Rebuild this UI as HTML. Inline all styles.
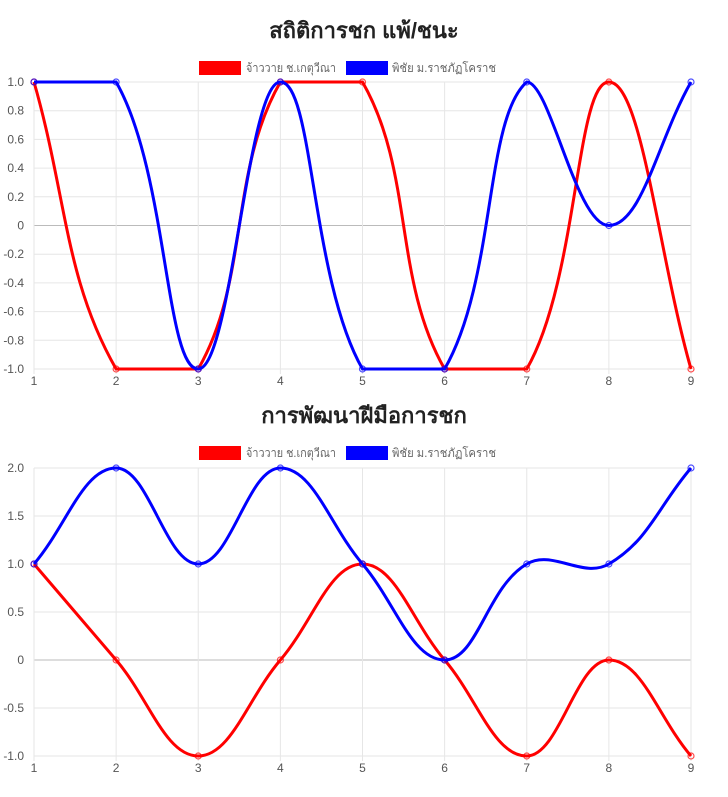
<!DOCTYPE html>
<html><head><meta charset="utf-8"><style>
body{margin:0;background:#fff;width:728px;height:792px;overflow:hidden}
svg text{font-family:"Liberation Sans","Noto Sans CJK SC",sans-serif}
</style></head><body>
<svg id="s" width="728" height="792" xmlns="http://www.w3.org/2000/svg"></svg>
<script>
const S=document.getElementById('s');let h='';
const xs=[];for(let i=0;i<9;i++)xs.push(34+i*82.125);
function spline(pts,top,bot){
 const t=0.4;let cps=[];
 for(let i=0;i<pts.length;i++){
  const p=pts[i-1]||pts[i],c=pts[i],n=pts[i+1]||pts[i];
  const d01=Math.hypot(c[0]-p[0],c[1]-p[1]),d12=Math.hypot(n[0]-c[0],n[1]-c[1]);
  let s01=d01/(d01+d12),s12=d12/(d01+d12);if(isNaN(s01))s01=0;if(isNaN(s12))s12=0;
  const fa=t*s01,fb=t*s12;
  let a=[c[0]-fa*(n[0]-p[0]),c[1]-fa*(n[1]-p[1])],b=[c[0]+fb*(n[0]-p[0]),c[1]+fb*(n[1]-p[1])];
  a[1]=Math.min(bot,Math.max(top,a[1]));b[1]=Math.min(bot,Math.max(top,b[1]));
  cps.push([a,b]);
 }
 let d='M'+pts[0][0]+','+pts[0][1];
 for(let i=1;i<pts.length;i++){d+=' C'+cps[i-1][1].join(',')+' '+cps[i][0].join(',')+' '+pts[i].join(',');}
 return d;
}
function chart(ty,title,top,bot,ymin,ymax,step,fmt,r,b){
 h+=`<text x="364" y="${ty}" text-anchor="middle" font-size="22" font-weight="bold" fill="#222">${title}</text>`;
 const ly=ty+23;
 h+=`<rect x="199" y="${ly}" width="42" height="14" fill="red"/><text x="246" y="${ly+11}" font-size="12" fill="#666" textLength="90" lengthAdjust="spacingAndGlyphs">จ้าววาย ช.เกตุวีณา</text>`;
 h+=`<rect x="346" y="${ly}" width="42" height="14" fill="blue"/><text x="392" y="${ly+11}" font-size="12" fill="#666" textLength="104" lengthAdjust="spacingAndGlyphs">พิชัย ม.ราชภัฏโคราช</text>`;
 const Y=v=>bot-(v-ymin)/(ymax-ymin)*(bot-top);
 for(let v=ymin;v<=ymax+1e-9;v+=step){const y=Y(v);const z=Math.abs(v)<1e-9;
  h+=`<line x1="34" x2="691" y1="${y}" y2="${y}" stroke="${z?'#bbb':'#e6e6e6'}"/>`;
  h+=`<text x="24" y="${y+4}" text-anchor="end" font-size="12" fill="#555">${z?'0':fmt(v)}</text>`;}
 xs.forEach((x,i)=>{h+=`<line x1="${x}" x2="${x}" y1="${top}" y2="${bot+5}" stroke="#e6e6e6"/><text x="${x}" y="${bot+16}" text-anchor="middle" font-size="12" fill="#555">${i+1}</text>`;});
 [[r,'red'],[b,'blue']].forEach(([d,c])=>{const pts=d.map((v,i)=>[xs[i],Y(v)]);
  h+=`<path d="${spline(pts,top,bot)}" fill="none" stroke="${c}" stroke-width="3"/>`;
  pts.forEach(p=>h+=`<circle cx="${p[0]}" cy="${p[1]}" r="3" fill="none" stroke="${c}" stroke-opacity="0.7" stroke-width="1.2"/>`);});
}
chart(38,'สถิติการชก แพ้/ชนะ',82,369,-1,1,0.2,v=>v.toFixed(1),[1,-1,-1,1,1,-1,-1,1,-1],[1,1,-1,1,-1,-1,1,0,1]);
chart(423,'การพัฒนาฝีมือการชก',468,756,-1,2,0.5,v=>v.toFixed(1),[1,0,-1,0,1,0,-1,0,-1],[1,2,1,2,1,0,1,1,2]);
S.innerHTML=h;
</script></body></html>
